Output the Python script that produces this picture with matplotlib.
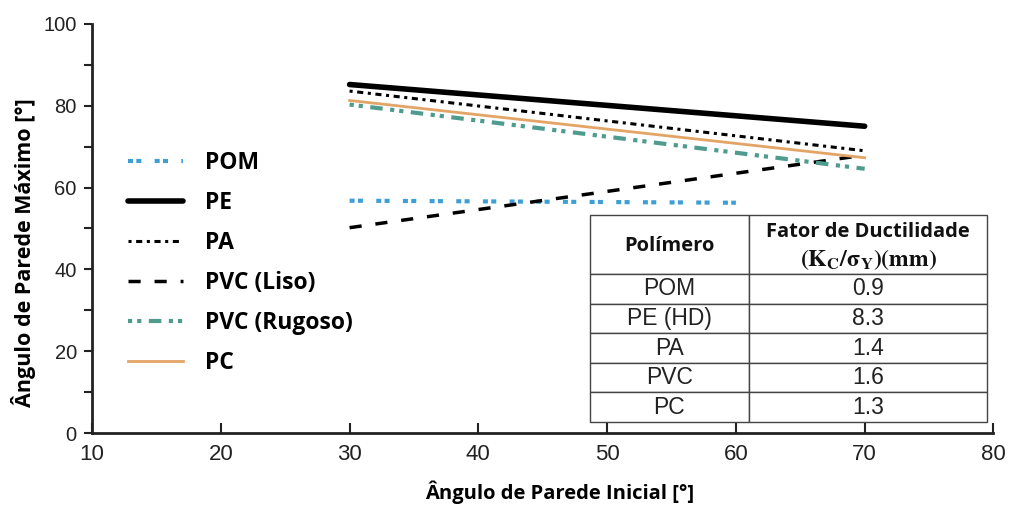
import matplotlib.pyplot as plt

plt.rcParams['font.family'] = ['Liberation Sans', 'DejaVu Sans']
plt.rcParams['mathtext.fontset'] = 'stix'

# series (initial wall angle -> max wall angle)
pom_x = [30, 60]
pom_y = [56.8, 56.3]
pe_x = [30, 70]
pe_y = [85.2, 75]
pa_x = [30, 70]
pa_y = [83.6, 69]
pvc_liso_x = [30, 69]
pvc_liso_y = [50.2, 67.5]
pvc_rug_x = [30, 70]
pvc_rug_y = [80.3, 64.6]
pc_x = [30, 70]
pc_y = [81.3, 67.3]

# table data
polimeros = ['POM', 'PE (HD)', 'PA', 'PVC', 'PC']
fator = ['0.9', '8.3', '1.4', '1.6', '1.3']

blue = '#3d9fd3'
teal = '#4f9c8f'
orange = '#e3a467'

fig = plt.figure(figsize=(10.16, 5.08), dpi=100)
ax = fig.add_axes([0.0906, 0.1476, 0.8872, 0.8052])

ax.plot(pom_x, pom_y, color=blue, lw=3, dashes=[1.2, 0.8, 1.2, 3.2], label='POM')
ax.plot(pe_x, pe_y, color='black', lw=4, solid_capstyle='round', label='PE')
ax.plot(pa_x, pa_y, color='black', lw=2.2, dashes=[1, 1.5, 2, 1.5], label='PA')
ax.plot(pvc_liso_x, pvc_liso_y, color='black', lw=2.5, dashes=[3.5, 4], label='PVC (Liso)')
ax.plot(pvc_rug_x, pvc_rug_y, color=teal, lw=3, dashes=[1, 1.2, 1, 1.8, 3, 1.8],
        label='PVC (Rugoso)')
ax.plot(pc_x, pc_y, color=orange, lw=2, label='PC')

ax.set_xlim(10, 80)
ax.set_ylim(0, 100)
ax.set_xticks(range(10, 81, 10))
ax.set_yticks(range(0, 101, 20))
ax.set_yticks(range(10, 100, 20), minor=True)
ax.tick_params(axis='x', which='both', direction='in', length=7, width=1.5,
               labelsize=16, colors='#222222', pad=8)
ax.tick_params(axis='y', which='both', direction='out', length=6, width=1.5,
               labelsize=14.5, colors='#222222', pad=5)
for s in ['top', 'right']:
    ax.spines[s].set_visible(False)
for s in ['left', 'bottom']:
    ax.spines[s].set_linewidth(2)
    ax.spines[s].set_color('#222222')

ax.set_xlabel('Ângulo de Parede Inicial [°]', fontfamily='Open Sans',
              fontweight='bold', fontsize=14.5)
ax.xaxis.set_label_coords(0.519, -0.115)
ax.set_ylabel('Ângulo de Parede Máximo [°]', fontfamily='Open Sans',
              fontweight='bold', fontsize=15.5)
ax.yaxis.set_label_coords(-0.062, 0.44)

leg = ax.legend(loc='center left', bbox_to_anchor=(0.04, 0.416), frameon=False,
                borderaxespad=0, borderpad=0,
                handlelength=2.4, handletextpad=0.95, labelspacing=0.7,
                prop={'family': 'Open Sans', 'weight': 'bold', 'size': 16.5})

# table
cells = [[p, f] for p, f in zip(polimeros, fator)]
tab = ax.table(cellText=cells, colLabels=['', ''],
               bbox=[0.552, 0.027, 0.441, 0.506], cellLoc='center',
               colWidths=[0.4, 0.6])
tab.auto_set_font_size(False)
for (r, c), cell in tab.get_celld().items():
    cell.set_edgecolor('#444444')
    cell.set_linewidth(1.0)
    if r == 0:
        cell.set_height(2.0)
    else:
        cell.set_height(1.0)
        cell.get_text().set_fontsize(16.5)
        cell.get_text().set_color('#222222')

hdr = dict(transform=ax.transAxes, ha='center', va='center', color='#111111')
ax.text(0.640, 0.458, 'Polímero', fontfamily='Open Sans', fontweight='bold',
        fontsize=14.5, **hdr)
ax.text(0.861, 0.491, 'Fator de Ductilidade', fontfamily='Open Sans',
        fontweight='bold', fontsize=14.5, **hdr)
ax.text(0.861, 0.425, r'$\mathbf{(K_C/\sigma_Y)(mm)}$', fontsize=17, **hdr)

fig.savefig('out.png', dpi=100)
